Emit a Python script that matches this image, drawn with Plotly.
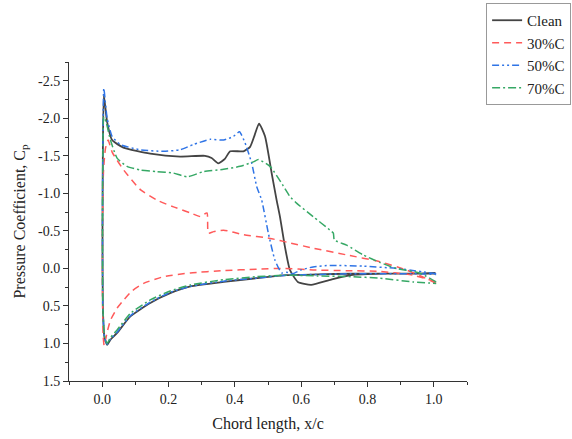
import plotly.graph_objects as go

# ---- data (x/c, Cp); each series: upper surface TE->LE, then lower surface LE->TE ----
clean_x = [1.005, 0.95, 0.85, 0.75, 0.69, 0.63, 0.59, 0.566, 0.551, 0.536, 0.526, 0.511, 0.491, 0.473,
           0.46, 0.446, 0.426, 0.386, 0.37, 0.35, 0.33, 0.31, 0.235, 0.145, 0.064, 0.03, 0.015, 0.005,
           0.002, 0.001, 0.002, 0.007, 0.015,
           0.025, 0.045, 0.085, 0.145, 0.205, 0.266, 0.366, 0.466, 0.556, 0.65, 0.75, 0.85, 0.95, 1.005]
clean_cp = [0.06, 0.07, 0.07, 0.09, 0.15, 0.22, 0.18, 0.02, -0.29, -0.69, -0.91, -1.27, -1.76, -1.93,
            -1.78, -1.62, -1.56, -1.56, -1.46, -1.40, -1.47, -1.50, -1.49, -1.53, -1.61, -1.71, -1.95, -2.31,
            -1.5, -0.5, 0.5, 0.92, 1.02,
            0.95, 0.86, 0.64, 0.46, 0.33, 0.24, 0.18, 0.13, 0.09, 0.08, 0.07, 0.07, 0.07, 0.07]

c30_x = [1.007, 0.96, 0.917, 0.837, 0.737, 0.636, 0.566, 0.506, 0.426, 0.366, 0.336, 0.32, 0.316,
         0.296, 0.266, 0.215, 0.165, 0.115, 0.065, 0.03, 0.018, 0.01, 0.004, 0.001, 0.001, 0.003, 0.006,
         0.015, 0.025, 0.045, 0.065, 0.09, 0.125, 0.185, 0.266, 0.366, 0.466, 0.546, 0.636, 0.737,
         0.837, 0.937, 1.007]
c30_cp = [0.2, 0.1, 0.02, -0.09, -0.18, -0.27, -0.34, -0.40, -0.45, -0.51, -0.49, -0.47, -0.74,
          -0.69, -0.74, -0.82, -0.91, -1.05, -1.31, -1.55, -1.71, -1.6, -1.3, -0.5, 0.3, 0.9, 1.03,
          0.85, 0.69, 0.53, 0.42, 0.30, 0.20, 0.11, 0.06, 0.03, 0.01, 0.0, 0.02, 0.03,
          0.04, 0.09, 0.18]

c50_x = [1.007, 0.887, 0.787, 0.687, 0.636, 0.60, 0.575, 0.555, 0.541, 0.521, 0.501, 0.481, 0.466,
         0.451, 0.431, 0.414, 0.396, 0.366, 0.326, 0.275, 0.235, 0.185, 0.115, 0.055, 0.03, 0.015,
         0.005, 0.002, 0.001, 0.002, 0.007, 0.015,
         0.025, 0.045, 0.085, 0.145, 0.205, 0.266, 0.366, 0.466, 0.556, 0.65, 0.75, 0.85, 0.95, 1.007]
c50_cp = [0.07, 0.0, -0.03, -0.04, -0.02, 0.02, 0.07, 0.05, 0.06, -0.11, -0.47, -0.91, -1.09,
          -1.40, -1.67, -1.82, -1.76, -1.71, -1.72, -1.65, -1.58, -1.56, -1.58, -1.65, -1.76, -2.0,
          -2.40, -1.5, -0.5, 0.5, 0.92, 1.01,
          0.94, 0.85, 0.63, 0.45, 0.32, 0.24, 0.17, 0.13, 0.09, 0.08, 0.07, 0.07, 0.07, 0.08]

c70_x = [1.007, 0.957, 0.887, 0.837, 0.787, 0.737, 0.70, 0.697, 0.687, 0.636, 0.586, 0.566, 0.546,
         0.506, 0.471, 0.456, 0.416, 0.366, 0.306, 0.256, 0.215, 0.165, 0.115, 0.075, 0.045, 0.025,
         0.012, 0.005, 0.002, 0.001, 0.002, 0.007, 0.015,
         0.025, 0.045, 0.085, 0.145, 0.205, 0.266, 0.366, 0.466, 0.556, 0.65, 0.75, 0.837, 0.937, 1.007]
c70_cp = [0.18, 0.06, 0.0, -0.08, -0.18, -0.31, -0.38, -0.47, -0.51, -0.69, -0.87, -0.96, -1.10,
          -1.36, -1.45, -1.42, -1.36, -1.32, -1.29, -1.22, -1.27, -1.29, -1.31, -1.36, -1.47, -1.71,
          -1.95, -2.02, -1.5, -0.5, 0.5, 0.9, 1.0,
          0.92, 0.82, 0.60, 0.42, 0.30, 0.22, 0.15, 0.11, 0.09, 0.10, 0.11, 0.13, 0.18, 0.20]

names = ["Clean", "30%C", "50%C", "70%C"]
xs = [clean_x, c30_x, c50_x, c70_x]
ys = [clean_cp, c30_cp, c50_cp, c70_cp]
colors = ["#444444", "#ff5a5a", "#2f74e6", "#36a865"]
dashes = ["solid", "7px,5px", "7px,3px,2px,3px,2px,3px", "8px,3px,2px,3px"]
widths = [1.8, 1.5, 1.5, 1.5]

FONT = "Liberation Serif, Times New Roman, serif"

fig = go.Figure()
for n, x, y, c, d, w in zip(names, xs, ys, colors, dashes, widths):
    fig.add_trace(go.Scatter(x=x, y=y, mode="lines", name=n,
                             line=dict(color=c, dash=d, width=w, shape="spline", smoothing=0.5)))

axis_common = dict(
    showgrid=False, zeroline=False, showline=True, linecolor="#333333", linewidth=1,
    ticks="outside", ticklen=5, tickcolor="#333333", tickwidth=1,
    tickfont=dict(family=FONT, size=14, color="#222222"),
    mirror=False,
)

fig.update_xaxes(range=[-0.1, 1.1], tickvals=[0, 0.2, 0.4, 0.6, 0.8, 1.0],
                 ticktext=["0.0", "0.2", "0.4", "0.6", "0.8", "1.0"],
                 minor=dict(ticks="outside", ticklen=3, dtick=0.1, tick0=0, tickcolor="#333333"),
                 title=dict(text="Chord length, x/c", font=dict(family=FONT, size=16, color="#222222"),
                            standoff=12),
                 **axis_common)
fig.update_yaxes(range=[1.5, -2.75], tickvals=[-2.5, -2.0, -1.5, -1.0, -0.5, 0.0, 0.5, 1.0, 1.5],
                 ticktext=["-2.5", "-2.0", "-1.5", "-1.0", "-0.5", "0.0", "0.5", "1.0", "1.5"],
                 minor=dict(ticks="outside", ticklen=3, dtick=0.25, tick0=0, tickcolor="#333333"),
                 title=dict(text="Pressure Coefficient, C<sub>p</sub>",
                            font=dict(family=FONT, size=16, color="#222222"), standoff=8),
                 **axis_common)

fig.update_layout(
    width=572, height=439,
    margin=dict(l=69, r=105, t=62, b=58, autoexpand=False),
    plot_bgcolor="white", paper_bgcolor="white",
    font=dict(family=FONT, color="#222222"),
    legend=dict(x=1.048, y=1.185, xanchor="left", yanchor="top",
                bordercolor="#999999", borderwidth=1, bgcolor="white",
                font=dict(family=FONT, size=15, color="#222222"),
                tracegroupgap=0),
)

fig.write_html("out.html")
